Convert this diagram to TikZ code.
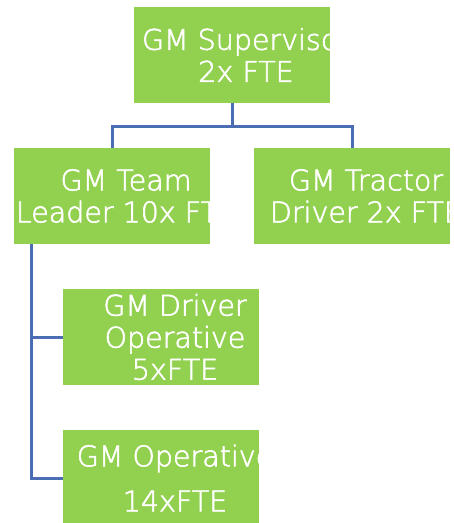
\documentclass[tikz,border=0pt]{standalone}
\usepackage{fontspec}
\setmainfont{DejaVu Sans ExtraLight}
\usetikzlibrary{positioning}
\definecolor{boxgreen}{HTML}{92D050}
\definecolor{linkblue}{HTML}{4A6DB3}
% fill and outline the glyphs, a bit heavier than ExtraLight
\newcommand\thickertext{\special{pdf:literal direct 2 Tr 0.6 w}}

\begin{document}
\begin{tikzpicture}[x=1pt,y=1pt,on grid,
    role/.style={fill=boxgreen,minimum width=196pt,minimum height=96pt,inner sep=0pt,
      path picture={\node[align=center,text=white,font=\fontsize{28.5}{32}\selectfont\thickertext]
        at ([xshift=14pt]path picture bounding box.center) {#1};}},
    link/.style={draw=linkblue,line width=3pt}]
  \useasboundingbox (0,0) rectangle (454,-523);
  \node[role={GM Supervisor\\2x FTE}] (sup) at (232,-55) {};
  \node[role={GM Team\\Leader 10x FTE}] (lead) [below left=141pt and 120pt of sup] {};
  \node[role={GM Tractor\\Driver 2x FTE}] (tractor) [below right=141pt and 120pt of sup] {};
  \node[role={GM Driver\\Operative\\5xFTE}] (drvop) [below right=141pt and 49pt of lead] {};
  \node[role={GM Operative\\[13pt]14xFTE}] (op) [below=141pt of drvop] {};
  \coordinate[right=18pt of lead.south west] (trunk);
  \draw[link] (sup.south) -- ++(0,-23) -| (lead.north);
  \draw[link] (sup.south) -- ++(0,-23) -| (tractor.north);
  \draw[link] (trunk) |- (drvop.west);
  \draw[link] (trunk) |- (op.west);
\end{tikzpicture}
\end{document}
